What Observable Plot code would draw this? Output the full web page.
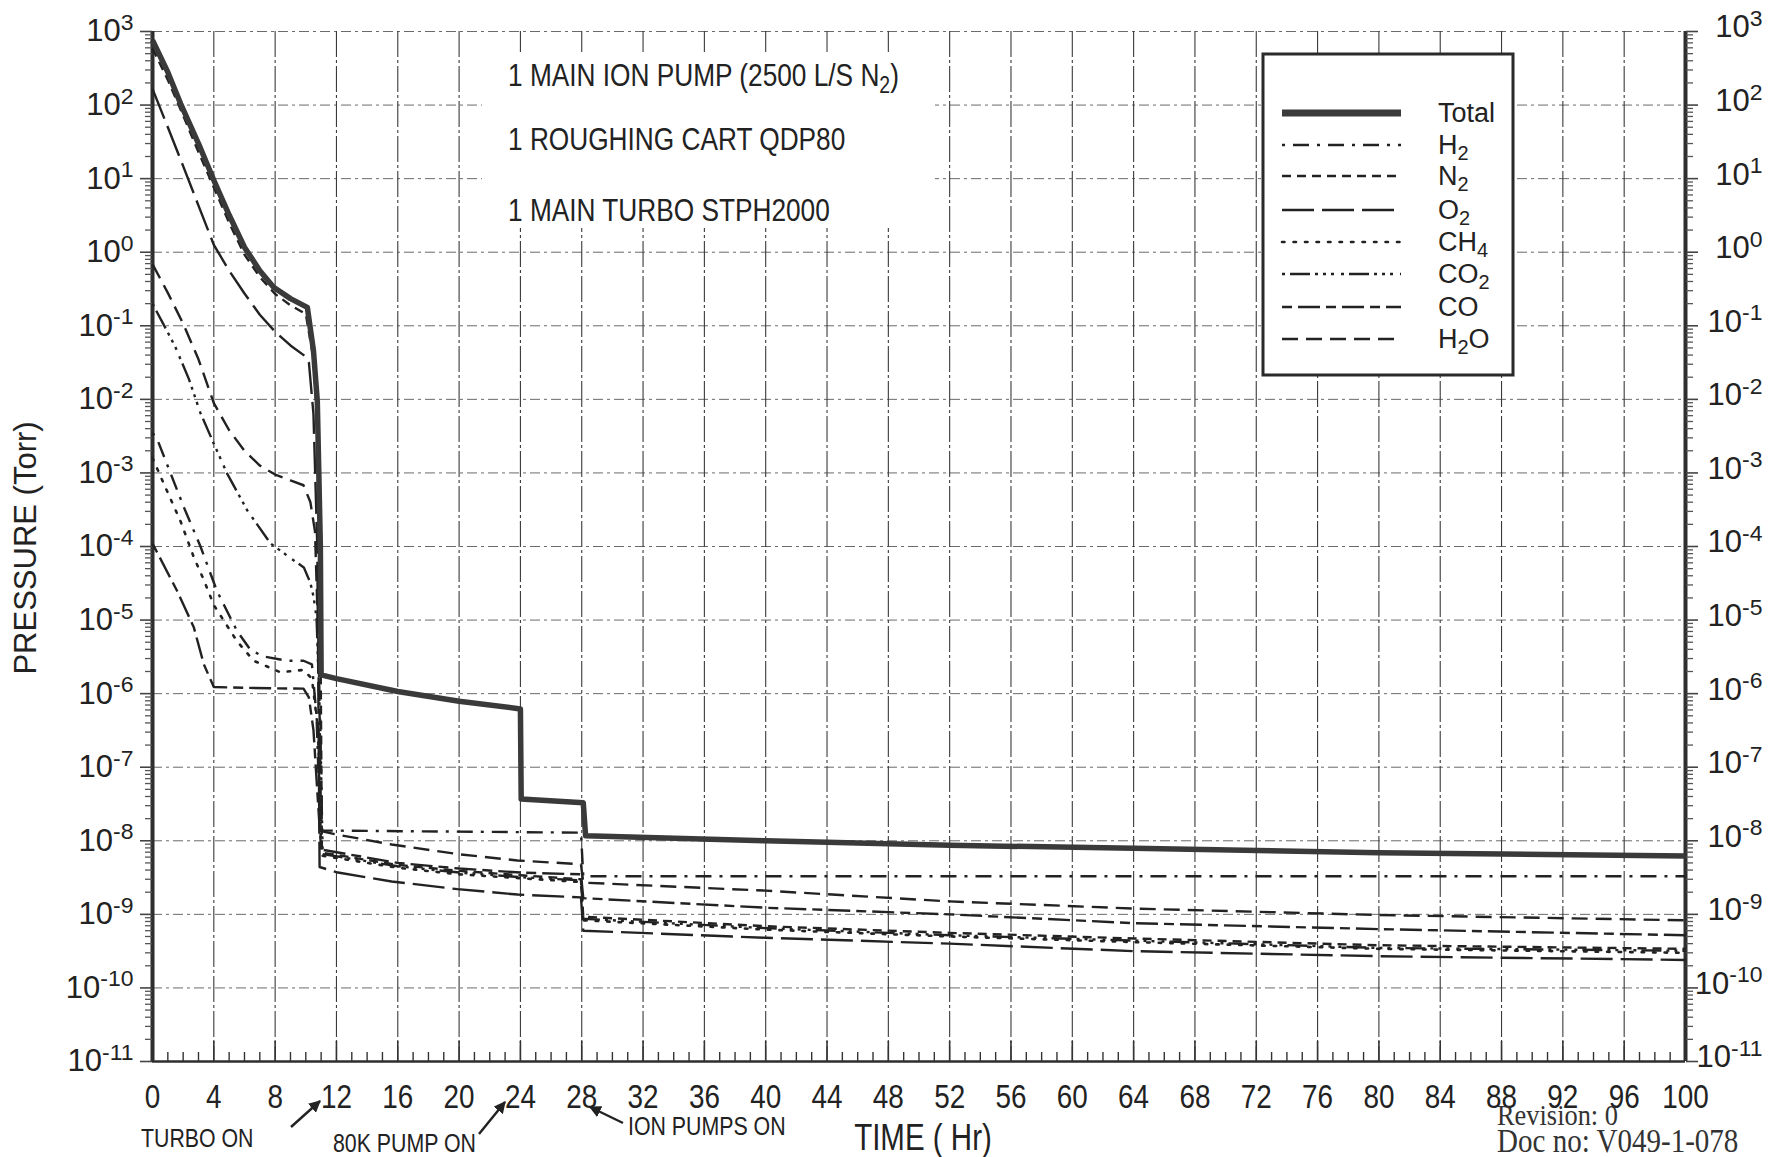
<!DOCTYPE html>
<html>
<head>
<meta charset="utf-8">
<script src="https://cdn.jsdelivr.net/npm/d3@7"></script>
<script src="https://cdn.jsdelivr.net/npm/@observablehq/plot@0.6"></script>
<style>
  html, body { margin: 0; padding: 0; background: #fff; }
  #chart svg { display: block; }
</style>
</head>
<body>
<div id="chart"></div>
<script>
// ------------------------- DATA -------------------------
const seriesNames = ["Total", "H2", "N2", "O2", "CH4", "CO2", "CO", "H2O"];

const totalHours = [0, 1, 1.83, 3, 4, 5, 6, 7, 7.9, 9, 10.1, 10.5, 10.75, 10.95, 11.0, 12, 16, 20, 24, 24.05, 28.1, 28.25, 40, 52, 64, 80, 100];
const totalTorr  = [760, 280, 105, 30, 9.5, 3.2, 1.17, 0.56, 0.335, 0.234, 0.178, 0.046, 9.5e-3, 1e-4, 1.8e-6, 1.6e-6, 1.07e-6, 7.9e-7, 6.2e-7, 3.7e-8, 3.3e-8, 1.17e-8, 1.0e-8, 8.7e-9, 7.9e-9, 6.9e-9, 6.2e-9];

const h2Hours = [0, 0.3, 2.05, 3.13, 4.2, 5.5, 6.4, 7.25, 8.8, 9.85, 10.4, 10.7, 10.95, 27.95, 28.1, 100];
const h2Torr  = [3.5e-3, 2.9e-3, 3.4e-4, 1e-4, 2.5e-5, 7.2e-6, 3.9e-6, 3.2e-6, 2.8e-6, 2.8e-6, 2.5e-6, 5e-7, 1.38e-8, 1.29e-8, 3.3e-9, 3.3e-9];

const n2Hours = [0, 1, 2, 3, 4, 5, 6, 7, 8, 9, 10, 10.5, 10.8, 10.95, 11.05, 16, 20, 24, 27.95, 28.1, 40, 52, 64, 80, 100];
const n2Torr  = [590, 220, 72, 23, 7.6, 2.5, 0.93, 0.46, 0.27, 0.19, 0.145, 0.035, 3.2e-3, 1e-5, 6.9e-9, 4.7e-9, 3.9e-9, 3.4e-9, 3.0e-9, 9.3e-10, 6.9e-10, 5.6e-10, 4.7e-10, 3.8e-10, 3.4e-10];

const o2Hours = [0, 1, 2, 3, 4, 5, 6, 7, 8, 9, 10, 10.2, 10.5, 10.75, 10.9, 12.1, 15.6, 19.9, 23.8, 27.95, 28.1, 40, 52, 64, 80, 100];
const o2Torr  = [166, 50, 14.8, 4.3, 1.26, 0.56, 0.275, 0.141, 0.083, 0.054, 0.038, 0.032, 6.3e-3, 1e-4, 4.4e-9, 3.7e-9, 2.8e-9, 2.2e-9, 1.86e-9, 1.7e-9, 6.0e-10, 4.8e-10, 4.0e-10, 3.16e-10, 2.7e-10, 2.4e-10];

const ch4Hours = [0, 0.74, 1.83, 2.7, 3.35, 4, 5.5, 6.6, 8.35, 9.85, 10.4, 10.8, 11.0, 16, 20, 24, 27.95, 28.1, 40, 52, 64, 80, 100];
const ch4Torr  = [1.6e-3, 7.1e-4, 2.2e-4, 7.1e-5, 3.5e-5, 1.6e-5, 5.2e-6, 2.8e-6, 1.95e-6, 2.1e-6, 1.6e-6, 3.2e-7, 6.3e-9, 4.3e-9, 3.5e-9, 3.1e-9, 2.75e-9, 8.3e-10, 6.2e-10, 5e-10, 4.2e-10, 3.4e-10, 3e-10];

const co2Hours = [0, 1, 1.5, 2.37, 3.13, 4, 4.87, 6.18, 7.7, 9.2, 9.87, 10.3, 10.5, 10.7, 10.95, 11.1, 16, 20, 24, 27.95, 28.1, 40, 52, 64, 80, 100];
const co2Torr  = [0.2, 0.081, 0.051, 0.019, 6.5e-3, 2.5e-3, 9.8e-4, 3.1e-4, 1.1e-4, 6.5e-5, 5.2e-5, 3.2e-5, 2.1e-5, 1.1e-5, 3.2e-7, 6.6e-9, 4.5e-9, 3.7e-9, 3.2e-9, 2.9e-9, 8.7e-10, 6.5e-10, 5.2e-10, 4.4e-10, 3.5e-10, 3.2e-10];

const coHours = [0, 1.6, 2.7, 3.35, 4, 6, 8, 9.85, 10.2, 10.5, 10.8, 11.0, 16, 20, 24, 27.95, 28.1, 40, 52, 64, 80, 100];
const coTorr  = [1.1e-4, 2.5e-5, 7.9e-6, 2.5e-6, 1.23e-6, 1.2e-6, 1.18e-6, 1.17e-6, 8.9e-7, 3.2e-7, 3.2e-8, 7.6e-9, 5e-9, 4.2e-9, 3.7e-9, 3.5e-9, 1.66e-9, 1.23e-9, 1.0e-9, 7.6e-10, 6.3e-10, 5.2e-10];

const h2oHours = [0, 1, 2, 3, 4, 5, 6, 7, 8, 9, 9.85, 10.3, 10.6, 10.85, 11.0, 11.9, 15.6, 19.9, 23.8, 27.95, 28.1, 40, 52, 64, 80, 100];
const h2oTorr  = [0.69, 0.28, 0.107, 0.035, 8.9e-3, 3.8e-3, 2e-3, 1.26e-3, 9.5e-4, 7.9e-4, 6.8e-4, 4e-4, 1.6e-4, 3.2e-6, 1.35e-8, 1.23e-8, 8.9e-9, 6.6e-9, 5.4e-9, 4.8e-9, 2.7e-9, 2.1e-9, 1.5e-9, 1.2e-9, 9.8e-10, 8.3e-10];

// axis tick values / labels and notes
const hourTicks = [0, 4, 8, 12, 16, 20, 24, 28, 32, 36, 40, 44, 48, 52, 56, 60, 64, 68, 72, 76, 80, 84, 88, 92, 96, 100];
const decadeTicks = [1e3, 1e2, 1e1, 1e0, 1e-1, 1e-2, 1e-3, 1e-4, 1e-5, 1e-6, 1e-7, 1e-8, 1e-9, 1e-10, 1e-11];
const notes = [["1 MAIN ION PUMP (2500 L/S N", "2", ")"], ["1 ROUGHING CART QDP80"], ["1 MAIN TURBO STPH2000"]];
const events = ["TURBO ON", "80K PUMP ON", "ION PUMPS ON"];
const yTitle = "PRESSURE (Torr)";
const xTitle = "TIME ( Hr)";
const stamp = ["Revision: 0", "Doc no: V049-1-078"];

// ------------------------- build table -------------------------
const seriesData = {
  Total: [totalHours, totalTorr], H2: [h2Hours, h2Torr], N2: [n2Hours, n2Torr], O2: [o2Hours, o2Torr],
  CH4: [ch4Hours, ch4Torr], CO2: [co2Hours, co2Torr], CO: [coHours, coTorr], H2O: [h2oHours, h2oTorr]
};
const rows = [];
for (const name of seriesNames) {
  const [hs, ps] = seriesData[name];
  hs.forEach((h, i) => rows.push({series: name, hour: h, torr: ps[i]}));
}

// styles
const lineStyle = {
  Total: {w: 5.5, dash: null, color: "#3a3a3a"},
  H2:    {w: 2.4, dash: "3,8,16,8", color: "#222"},
  N2:    {w: 2.4, dash: "9,6", color: "#222"},
  O2:    {w: 2.4, dash: "32,8", color: "#222"},
  CH4:   {w: 2.6, dash: "2.5,9", color: "#222"},
  CO2:   {w: 2.4, dash: "3,5,20,5,3,5,3,5,3,7", color: "#222"},
  CO:    {w: 2.4, dash: "10,6,22,6", color: "#222"},
  H2O:   {w: 2.4, dash: "16,8", color: "#222"}
};

const REG = "'Liberation Sans', Arial, Helvetica, sans-serif";
const SERIF = "'Liberation Serif', 'Times New Roman', serif";
const NARROW_K = 0.82;

const minorHours = d3.range(1, 100).filter(h => h % 4 !== 0);
const minorDecades = [];
for (const d of decadeTicks.slice(1)) for (let m = 2; m <= 9; m++) minorDecades.push(m * d);
const gridHours = hourTicks.filter(h => h > 0 && h < 100);
const gridDecades = decadeTicks.filter(d => d > 1e-11);
const expLabel = d => "10^" + Math.round(Math.log10(d));

const lineMarks = seriesNames.slice().reverse().map(name => Plot.line(rows.filter(r => r.series === name), {
  x: "hour", y: "torr",
  stroke: lineStyle[name].color,
  strokeWidth: lineStyle[name].w,
  strokeDasharray: lineStyle[name].dash,
  strokeLinejoin: "round",
  strokeLinecap: name === "CH4" ? "round" : "butt"
}));

const plot = Plot.plot({
  width: 1771, height: 1157,
  marginLeft: 152, marginRight: 86, marginTop: 31, marginBottom: 96,
  style: {background: "#fff", fontFamily: REG, color: "#222"},
  x: {domain: [0, 100], axis: null},
  y: {type: "log", domain: [1e-11, 1e3], axis: null},
  marks: [
    Plot.ruleY(gridDecades, {stroke: "#6a6a6a", strokeWidth: 1, strokeDasharray: "10,4,3,4"}),
    Plot.ruleX(gridHours, {stroke: "#3a3a3a", strokeWidth: 1.1, strokeDasharray: "26,3,3,3"}),
    Plot.ruleX([0, 100], {stroke: "#2e2e2e", strokeWidth: 4}),
    Plot.ruleY([1e-11], {stroke: "#2e2e2e", strokeWidth: 2.5}),
    Plot.axisY({anchor: "left", label: null, ticks: minorDecades, tickSize: 7, tickFormat: () => "", stroke: "#555", strokeWidth: 1.3}),
    Plot.axisY({anchor: "right", label: null, ticks: minorDecades, tickSize: 7, tickFormat: () => "", stroke: "#555", strokeWidth: 1.3}),
    Plot.axisY({anchor: "left", label: null, ticks: decadeTicks, tickSize: 12, tickFormat: () => "", stroke: "#444", strokeWidth: 1.6}),
    Plot.axisY({anchor: "right", label: null, ticks: decadeTicks, tickSize: 12, tickFormat: () => "", stroke: "#444", strokeWidth: 1.6}),
    Plot.axisY({anchor: "left", label: null, ticks: decadeTicks, tickSize: 0, tickPadding: 19, tickFormat: expLabel, fontSize: 31, fill: "#222"}),
    Plot.axisY({anchor: "right", label: null, ticks: decadeTicks, tickSize: 0, tickPadding: 77, tickFormat: expLabel, fontSize: 31, textAnchor: "end", fill: "#222", dy: -4}),
    Plot.axisX({anchor: "bottom", label: null, ticks: minorHours, tickSize: -9, tickFormat: () => "", stroke: "#333", strokeWidth: 1.4}),
    Plot.axisX({anchor: "bottom", label: null, ticks: gridHours, tickSize: -20, tickFormat: () => "", stroke: "#333", strokeWidth: 1.6}),
    Plot.axisX({anchor: "bottom", label: null, ticks: hourTicks, tickSize: 0, tickPadding: 22, tickFormat: d => String(d), fontSize: 34, fill: "#222"}),
    ...lineMarks
  ]
});

document.getElementById("chart").appendChild(plot);

// ------------------------- post-processing (annotations) -------------------------
const svg = d3.select(plot);

// remove empty tick-label texts
svg.selectAll("text").filter(function () { return this.textContent === ""; }).remove();

// superscript exponents on the y labels
svg.selectAll("text").each(function () {
  const m = /^10\^(-?\d+)$/.exec(this.textContent);
  if (!m) return;
  const t = d3.select(this);
  t.text("");
  t.append("tspan").text("10");
  t.append("tspan").attr("dy", "-0.5em").attr("font-size", "0.74em").text(m[1]);
});
svg.selectAll('g[aria-label="x-axis tick label"] text').classed("narrow", true);

// chemical formula with subscripts
function formula(sel, str) {
  const tokens = str.split(/(\d+)/).filter(s => s.length);
  tokens.forEach((tok, i) => {
    const prev = i > 0 ? tokens[i - 1] : "";
    const isSub = /^\d+$/.test(tok) && /[A-Za-z]$/.test(prev);
    const ts = sel.append("tspan").text(tok);
    if (isSub) ts.attr("baseline-shift", "-28%").attr("font-size", "74%");
  });
}

// white patch behind the notes (gridlines are blank there in the reference)
svg.append("rect").attr("x", 482).attr("y", 52).attr("width", 453).attr("height", 176).attr("fill", "#fff");

const noteY = [86, 150, 221];
notes.forEach((parts, i) => {
  const t = svg.append("text").attr("x", 508).attr("y", noteY[i]).attr("text-anchor", "start")
    .attr("font-family", REG).attr("font-size", 32).attr("fill", "#222").classed("narrow", true);
  parts.forEach((p, j) => {
    const ts = t.append("tspan").text(p);
    if (j === 1) ts.attr("baseline-shift", "-28%").attr("font-size", "74%");
  });
});

// legend
const lg = svg.append("g");
lg.append("rect").attr("x", 1263).attr("y", 54).attr("width", 250).attr("height", 321)
  .attr("fill", "#fff").attr("stroke", "#2a2a2a").attr("stroke-width", 3);
const rowY = [113, 145, 176, 210, 242, 274, 307, 339];
seriesNames.forEach((name, i) => {
  const st = lineStyle[name];
  lg.append("line").attr("x1", 1282).attr("x2", 1401).attr("y1", rowY[i]).attr("y2", rowY[i])
    .attr("stroke", st.color).attr("stroke-width", name === "Total" ? 7 : st.w)
    .attr("stroke-dasharray", st.dash).attr("stroke-linecap", name === "CH4" ? "round" : "butt");
  const t = lg.append("text").attr("x", 1438).attr("y", rowY[i] + 9).attr("text-anchor", "start")
    .attr("font-family", REG).attr("font-size", 27).attr("fill", "#222");
  formula(t, name);
});

// axis titles
svg.append("text").attr("transform", "translate(36,548) rotate(-90)").attr("text-anchor", "middle")
  .attr("font-family", REG).attr("font-size", 31).attr("fill", "#222").text(yTitle);
svg.append("text").attr("x", 923).attr("y", 1150).attr("text-anchor", "middle")
  .attr("font-family", REG).attr("font-size", 36).attr("fill", "#222").classed("narrow", true).text(xTitle);

// event labels + arrows
const evPos = [[141, 1147], [333, 1152], [628, 1135]];
events.forEach((e, i) => {
  svg.append("text").attr("x", evPos[i][0]).attr("y", evPos[i][1]).attr("text-anchor", "start")
    .attr("font-family", REG).attr("font-size", 26).attr("fill", "#222").classed("narrow", true).text(e);
});
const defs = svg.append("defs");
defs.append("marker").attr("id", "ah").attr("viewBox", "0 0 10 10").attr("refX", 9).attr("refY", 5)
  .attr("markerWidth", 5).attr("markerHeight", 5).attr("orient", "auto")
  .append("path").attr("d", "M0,0L10,5L0,10z").attr("fill", "#222");
const arrows = [[291, 1127, 320, 1101], [479, 1134, 505, 1102], [623, 1123, 590, 1107]];
arrows.forEach(a => {
  svg.append("line").attr("x1", a[0]).attr("y1", a[1]).attr("x2", a[2]).attr("y2", a[3])
    .attr("stroke", "#222").attr("stroke-width", 2.4).attr("marker-end", "url(#ah)");
});

// document stamp
svg.append("text").attr("x", 1497).attr("y", 1125).attr("text-anchor", "start").attr("font-family", SERIF)
  .attr("font-size", 30).attr("fill", "#333").classed("narrow-serif", true).text(stamp[0]);
svg.append("text").attr("x", 1497).attr("y", 1152).attr("text-anchor", "start").attr("font-family", SERIF)
  .attr("font-size", 33).attr("fill", "#333").classed("narrow-serif", true).text(stamp[1]);

// condense "narrow" texts (no narrow font installed)
svg.selectAll("text.narrow").each(function () {
  const len = this.getComputedTextLength();
  if (len > 0) { this.setAttribute("textLength", (len * NARROW_K).toFixed(1)); this.setAttribute("lengthAdjust", "spacingAndGlyphs"); }
});
svg.selectAll("text.narrow-serif").each(function () {
  const len = this.getComputedTextLength();
  if (len > 0) { this.setAttribute("textLength", (len * 0.88).toFixed(1)); this.setAttribute("lengthAdjust", "spacingAndGlyphs"); }
});
</script>
</body>
</html>
